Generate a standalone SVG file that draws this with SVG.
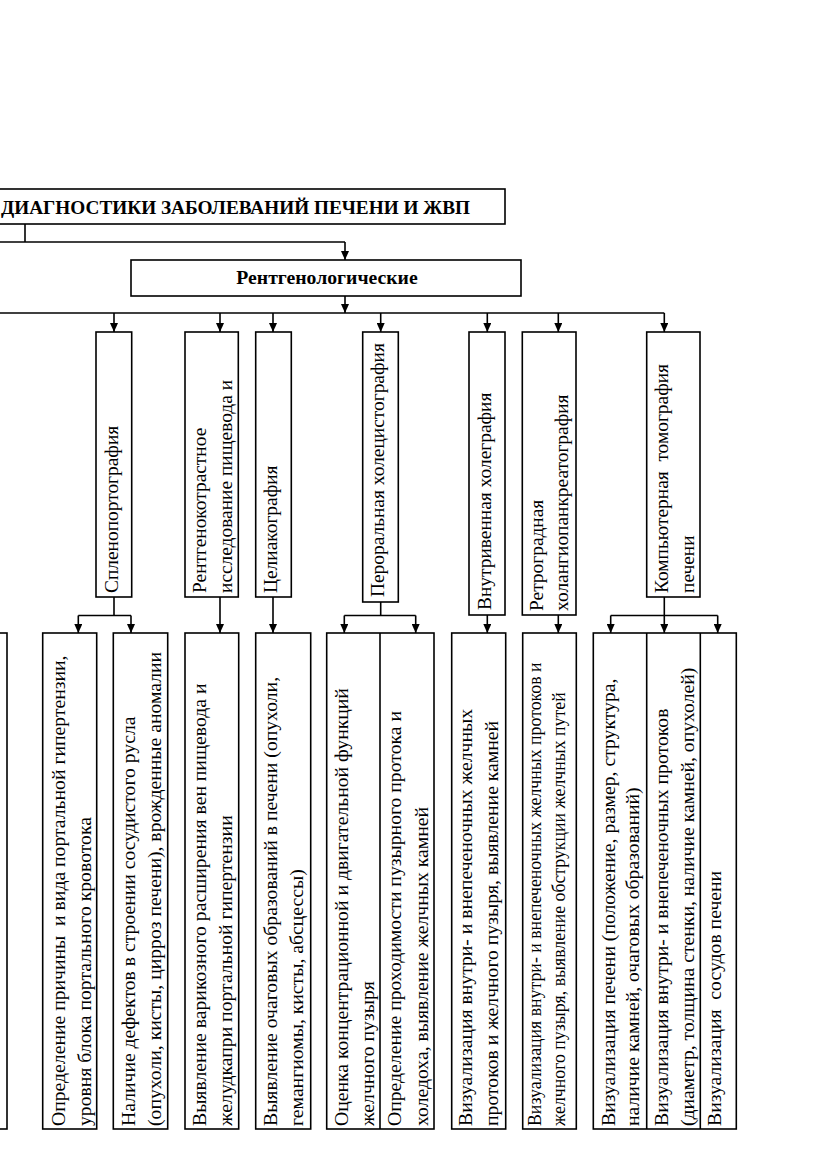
<svg xmlns="http://www.w3.org/2000/svg" width="831" height="1174" viewBox="0 0 831 1174">
<defs>
<marker id="ah" markerUnits="userSpaceOnUse" markerWidth="9" markerHeight="8" refX="9" refY="4" orient="auto">
<path d="M0,0 L9,4 L0,8 z" fill="#000"/>
</marker>
<style>
.box{fill:#fff;stroke:#000;stroke-width:1.6}
.c{fill:none;stroke:#000;stroke-width:1.6}
.a{marker-end:url(#ah)}
.t{font-family:"Liberation Serif","Times New Roman",serif;font-size:19.7px;fill:#000;white-space:pre}
.h{font-size:19.4px}
.b{font-weight:bold;font-size:19.7px}
.s{font-size:17.8px}
</style>
</defs>
<rect width="831" height="1174" fill="#fff"/>

<g id="connectors">
<path class="c" d="M25,224 V242"/>
<path class="c" d="M-10,242 H345"/>
<path class="c a" d="M345,242 V260"/>
<path class="c a" d="M345,296 V313"/>
<path class="c" d="M-10,313 H664.3"/>
<path class="c a" d="M114,313 V332"/>
<path class="c a" d="M220,313 V332"/>
<path class="c a" d="M273,313 V332"/>
<path class="c a" d="M380.7,313 V332"/>
<path class="c a" d="M487.3,313 V332"/>
<path class="c a" d="M558.3,313 V332"/>
<path class="c a" d="M664.3,313 V332"/>
<path class="c" d="M114,597 V615.5 M78.3,615.5 H131"/>
<path class="c a" d="M78.3,615.5 V633"/>
<path class="c a" d="M131,615.5 V633"/>
<path class="c a" d="M220,597 V633"/>
<path class="c a" d="M273,597 V633"/>
<path class="c" d="M380.7,602 V615.5 M344.3,615.5 H415.7"/>
<path class="c a" d="M344.3,615.5 V633"/>
<path class="c a" d="M415.7,615.5 V633"/>
<path class="c a" d="M487.3,615 V633"/>
<path class="c a" d="M558.3,615 V633"/>
<path class="c" d="M664.3,597 V615.5 M610.7,615.5 H717.7"/>
<path class="c a" d="M610.7,615.5 V633"/>
<path class="c a" d="M664.3,615.5 V633"/>
<path class="c a" d="M717.7,615.5 V633"/>
</g>

<g id="root">
<rect class="box" x="-10" y="189" width="515" height="35"/>
<text class="t b" x="1" y="214" textLength="469" lengthAdjust="spacingAndGlyphs">ДИАГНОСТИКИ ЗАБОЛЕВАНИЙ ПЕЧЕНИ И ЖВП</text>
</g>

<g id="rentgen">
<rect class="box" x="131" y="260" width="390" height="36"/>
<text class="t b" x="327" y="284" text-anchor="middle">Рентгенологические</text>
</g>

<g id="left-partial">
<rect class="box" x="-10" y="633" width="17" height="496"/>
</g>

<g id="splenoportografiya">
<rect class="box" x="96" y="332" width="35.7" height="265"/>
<text class="t h" transform="translate(118,593) rotate(-90)">Спленопортография</text>
</g>

<g id="rentgenokontrast">
<rect class="box" x="185" y="332" width="53.3" height="265"/>
<text class="t h" transform="translate(206,593) rotate(-90)"><tspan x="0" y="0">Рентгенокотрастное</tspan><tspan x="0" y="26">исследование пищевода и</tspan></text>
</g>

<g id="celiakografiya">
<rect class="box" x="255.7" y="332" width="35.6" height="265"/>
<text class="t h" transform="translate(277,593) rotate(-90)">Целиакография</text>
</g>

<g id="peroralnaya">
<rect class="box" x="362.7" y="332" width="35.6" height="270"/>
<text class="t h" transform="translate(384,597) rotate(-90)">Пероральная холецистография</text>
</g>

<g id="vnutrivennaya">
<rect class="box" x="469" y="332" width="36" height="283"/>
<text class="t h" transform="translate(491,610) rotate(-90)">Внутривенная холеграфия</text>
</g>

<g id="retrogradnaya">
<rect class="box" x="522.3" y="332" width="53.7" height="283"/>
<text class="t h" transform="translate(543,611) rotate(-90)"><tspan x="0" y="0">Ретроградная</tspan><tspan x="0" y="25">холангиопанкреатография</tspan></text>
</g>

<g id="kt">
<rect class="box" x="646.7" y="332" width="53.3" height="265"/>
<text class="t h" transform="translate(668,593) rotate(-90)"><tspan x="0" y="0">Компьютерная  томография</tspan><tspan x="0" y="26">печени</tspan></text>
</g>

<g id="spleno-res1">
<rect class="box" x="42.7" y="633" width="54" height="496"/>
<text class="t" transform="translate(65,1126) rotate(-90)"><tspan x="0" y="0">Определение причины  и вида портальной гипертензии,</tspan><tspan x="0" y="26">уровня блока портального кровотока</tspan></text>
</g>

<g id="spleno-res2">
<rect class="box" x="113.3" y="633" width="54.4" height="496"/>
<text class="t" transform="translate(135,1126) rotate(-90)"><tspan x="0" y="0">Наличие дефектов в строении сосудистого русла</tspan><tspan x="0" y="26">(опухоли, кисты, цирроз печени), врожденные аномалии</tspan></text>
</g>

<g id="rentgenokontrast-res">
<rect class="box" x="185" y="633" width="53.7" height="496"/>
<text class="t" transform="translate(206,1126) rotate(-90)"><tspan x="0" y="0">Выявление варикозного расширения вен пищевода и</tspan><tspan x="0" y="26">желудкапри портальной гипертензии</tspan></text>
</g>

<g id="celiako-res">
<rect class="box" x="255.7" y="633" width="55" height="496"/>
<text class="t" transform="translate(277,1126) rotate(-90)"><tspan x="0" y="0">Выявление очаговых образований в печени (опухоли,</tspan><tspan x="0" y="26">гемангиомы, кисты, абсцессы)</tspan></text>
</g>

<g id="peroral-res">
<rect class="box" x="326.7" y="633" width="107.3" height="496"/>
<path class="c" d="M380,633 V1129"/>
<text class="t" transform="translate(348,1126) rotate(-90)"><tspan x="0" y="0">Оценка концентрационной и двигательной функций</tspan><tspan x="0" y="26">желчного пузыря</tspan></text>
<text class="t" transform="translate(401,1126) rotate(-90)"><tspan x="0" y="0">Определение проходимости пузырного протока и</tspan><tspan x="0" y="27">холедоха, выявление желчных камней</tspan></text>
</g>

<g id="vnutriven-res">
<rect class="box" x="451.7" y="633" width="54" height="496"/>
<text class="t" transform="translate(472,1126) rotate(-90)"><tspan x="0" y="0">Визуализация внутри- и внепеченочных желчных</tspan><tspan x="0" y="26">протоков и желчного пузыря, выявление камней</tspan></text>
</g>

<g id="retrograd-res">
<rect class="box" x="522.7" y="633" width="53.6" height="496"/>
<text class="t s" transform="translate(541,1126) rotate(-90)"><tspan x="0" y="0">Визуализация внутри- и внепеченочных желчных протоков и</tspan><tspan x="0" y="24">желчного пузыря, выявление обструкции желчных путей</tspan></text>
</g>

<g id="kt-res">
<rect class="box" x="593.3" y="633" width="143" height="496"/>
<path class="c" d="M646.7,633 V1129 M700.3,633 V1129"/>
<text class="t" transform="translate(615,1126) rotate(-90)"><tspan x="0" y="0">Визуализация печени (положение, размер, структура,</tspan><tspan x="0" y="24">наличие камней, очаговых образований)</tspan></text>
<text class="t" transform="translate(668,1126) rotate(-90)"><tspan x="0" y="0">Визуализация внутри- и внепеченочных протоков</tspan><tspan x="0" y="26">(диаметр, толщина стенки, наличие камней, опухолей)</tspan></text>
<text class="t" transform="translate(721,1126) rotate(-90)">Визуализация  сосудов печени</text>
</g>
</svg>
